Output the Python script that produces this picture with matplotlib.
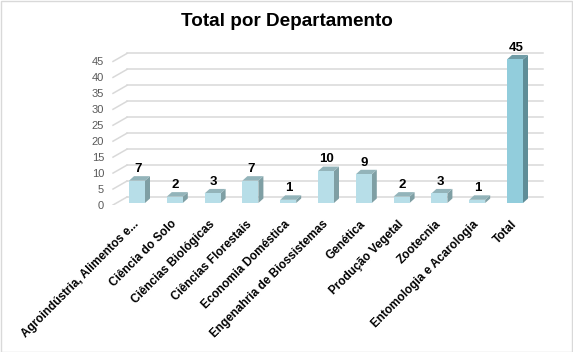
import matplotlib
matplotlib.use("Agg")
import matplotlib.pyplot as plt
from matplotlib.patches import Polygon, Rectangle
import matplotlib.transforms as mtransforms

categories = ["Agroindústria, Alimentos e...", "Ciência do Solo", "Ciências Biológicas",
              "Ciências Florestais", "Economia Doméstica", "Engenahria de Biossistemas",
              "Genética", "Produção Vegetal", "Zootecnia", "Entomologia e Acarologia", "Total"]
values = [7, 2, 3, 7, 1, 10, 9, 2, 3, 1, 45]
yticks = [0, 5, 10, 15, 20, 25, 30, 35, 40, 45]
title = "Total por Departamento"

plt.rcParams['font.family'] = ['Liberation Sans', 'DejaVu Sans']

W, H = 573, 352
fig = plt.figure(figsize=(W / 100, H / 100), dpi=100)

# axes pixel mapping
px_left, px_right = 90, 560
py_top, py_bottom = 30, 205
ax = fig.add_axes([px_left / W, 1 - py_bottom / H, (px_right - px_left) / W, (py_bottom - py_top) / H])
xs = 37.8   # px per category
ys = 3.19   # px per unit
x0 = 137    # px of first category center
ax.set_xlim((px_left - x0) / xs, (px_right - x0) / xs)
ax.set_ylim(0, (py_bottom - py_top) / ys)
ax.set_facecolor('none')
for s in ax.spines.values():
    s.set_visible(False)

# back wall gridlines and left diagonals
gdx, gdy = 14 / xs, 8 / ys
gx_front = (113 - x0) / xs
gx_end = (543 - x0) / xs
for t in yticks:
    ax.plot([gx_front + gdx, gx_end], [t + gdy, t + gdy], color='#d9d9d9', lw=1.1, zorder=1)
    ax.plot([gx_front, gx_front + gdx], [t, t + gdy], color='#d9d9d9', lw=1.1, zorder=1)

# bars (pseudo 3D)
bw = 16 / xs
base = 2 / ys
ddx, ddy = 5 / xs, 4.5 / ys
for i, v in enumerate(values):
    total = (i == len(values) - 1)
    side = '#5f8d97' if total else '#7f9fa4'
    topc = '#6f9ca6' if total else '#93b4ba'
    xl, xr = i - bw / 2, i + bw / 2
    yt = base + v
    ax.add_patch(Polygon([(xr, base), (xr + ddx, base + ddy), (xr + ddx, yt + ddy), (xr, yt)],
                         closed=True, facecolor=side, edgecolor='none', zorder=3))
    ax.add_patch(Polygon([(xl, yt), (xr, yt), (xr + ddx, yt + ddy), (xl + ddx, yt + ddy)],
                         closed=True, facecolor=topc, edgecolor='none', zorder=3))
ax.bar(range(len(values)), values, width=bw, bottom=base,
       color=['#92cddc' if i == len(values) - 1 else '#b7dee8' for i in range(len(values))],
       edgecolor='none', zorder=4)
for i, v in enumerate(values):
    ax.text(i + 0.02, base + v + ddy + 0.4, str(v), ha='center', va='bottom',
            fontsize=9.5, fontweight='bold', color='black', zorder=5)

# y tick labels
ax.set_yticks(yticks)
ax.set_yticklabels([str(t) for t in yticks], fontsize=8, color='#595959')
ax.tick_params(axis='y', length=0, pad=0)
for lab in ax.get_yticklabels():
    lab.set_horizontalalignment('right')
    lab.set_transform(lab.get_transform() + mtransforms.ScaledTranslation(14 / 100, 0, fig.dpi_scale_trans))

# x tick labels
ax.set_xticks(range(len(categories)))
ax.set_xticklabels(categories, rotation=45, ha='right', va='center', rotation_mode='anchor',
                   fontsize=8.5, fontweight='bold', color='black')
ax.tick_params(axis='x', length=0, pad=12.5)

fig.text(287 / W, 1 - 22 / H, title, ha='center', va='center', fontsize=13.6, fontweight='bold')

fig.patches.append(Rectangle((0.5 / W, 0.5 / H), 1 - 1.5 / W, 1 - 1.5 / H, transform=fig.transFigure,
                             fill=False, edgecolor='#d9d9d9', lw=1))

fig.savefig('out.png', dpi=100)
